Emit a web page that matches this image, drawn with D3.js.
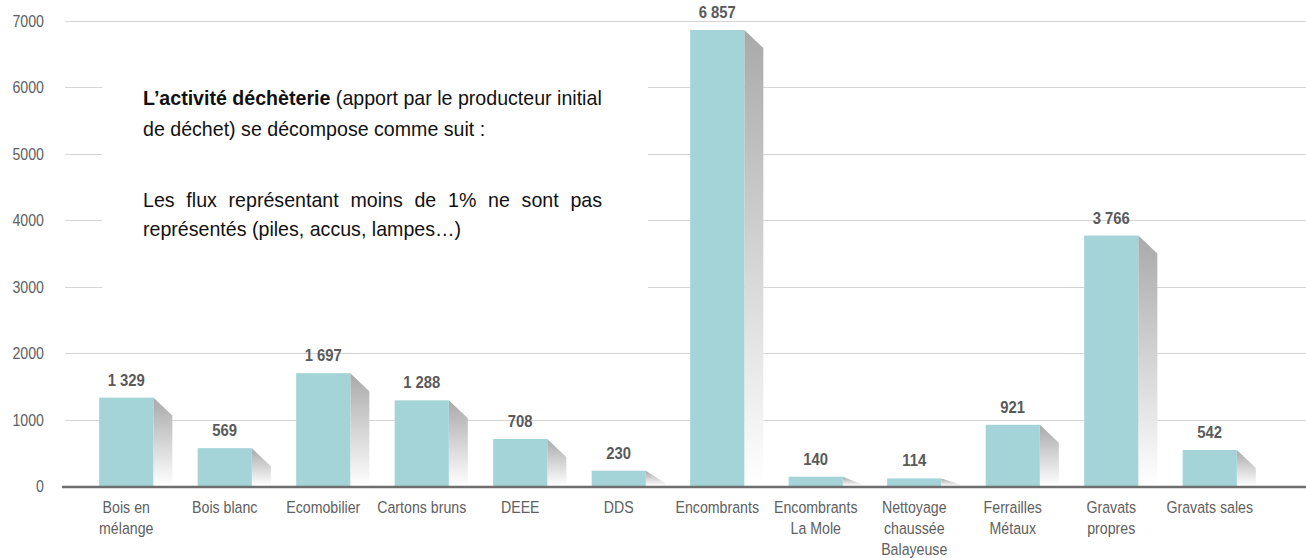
<!DOCTYPE html>
<meta charset="utf-8" />
<style>
  body { margin: 0; overflow: hidden; background: #fff; }
  svg { font-family: "Liberation Sans", Arial, sans-serif; }
</style>
<body>
<script src="https://cdn.jsdelivr.net/npm/d3@7"></script>
<script>
  // tonnages par flux (déchèterie)
  var categories = ["Bois en\nmélange", "Bois blanc", "Ecomobilier", "Cartons bruns", "DEEE", "DDS",
    "Encombrants", "Encombrants\nLa Mole", "Nettoyage\nchaussée\nBalayeuse", "Ferrailles\nMétaux",
    "Gravats\npropres", "Gravats sales"];
  var values = [1329, 569, 1697, 1288, 708, 230, 6857, 140, 114, 921, 3766, 542];
  var yTicks = [0, 1000, 2000, 3000, 4000, 5000, 6000, 7000];
  var noteLines = [
    [{ t: "L’activité déchèterie", b: true }, { t: " (apport par le producteur initial", b: false }],
    [{ t: "de déchet) se décompose comme suit :", b: false }],
    [{ t: "Les flux représentant moins de 1% ne sont pas", b: false }],
    [{ t: "représentés (piles, accus, lampes…)", b: false }]
  ];

  var width = 1306, height = 558;
  var narrow = 0.86; // pas de police condensée, on resserre à la main
  var fr = d3.formatLocale({ decimal: ",", thousands: " ", grouping: [3], currency: ["", " €"] });
  var fmt = fr.format(",d");

  var svg = d3.select("body").append("svg")
    .attr("width", width)
    .attr("height", height);

  var defs = svg.append("defs");
  var grad = defs.append("linearGradient")
    .attr("id", "shade")
    .attr("x1", 0).attr("y1", 0).attr("x2", 0).attr("y2", 1);
  grad.append("stop").attr("offset", "0%").attr("stop-color", "#a9a9a9");
  grad.append("stop").attr("offset", "100%").attr("stop-color", "#ffffff");

  var x = d3.scaleBand()
    .domain(categories)
    .range([77, 1259])
    .paddingInner(0.45)
    .paddingOuter(0.225);

  var y = d3.scaleLinear()
    .domain([0, 7000])
    .range([486, 20.5]);

  // grille
  svg.append("g").selectAll("line")
    .data(yTicks.filter(d => d > 0))
    .enter().append("line")
    .attr("x1", 65).attr("x2", width)
    .attr("y1", d => Math.round(y(d)) + 0.5)
    .attr("y2", d => Math.round(y(d)) + 0.5)
    .style("stroke", "#d4d4d4")
    .style("stroke-width", 1);

  svg.append("g").selectAll("text")
    .data(yTicks)
    .enter().append("text")
    .attr("transform", d => "translate(44," + (y(d) + 6) + ") scale(" + narrow + ",1)")
    .attr("text-anchor", "end")
    .style("font-size", "16.5px")
    .style("fill", "#606060")
    .text(d => d);

  // cadre blanc du commentaire
  svg.append("rect")
    .attr("x", 102).attr("y", 40)
    .attr("width", 546).attr("height", 262)
    .style("fill", "#fff");

  var noteY = [105, 136, 207, 236];
  var note = svg.append("g");
  var rows = noteLines.map(function (parts, i) {
    var t = note.append("text")
      .attr("x", 0)
      .attr("y", noteY[i])
      .style("font-size", "20px")
      .style("fill", "#111");
    parts.forEach(function (p) {
      t.append("tspan")
        .style("font-weight", p.b ? "bold" : "normal")
        .text(p.t);
    });
    return t;
  });
  // largeur de la 1re ligne : 459px
  var sx = 459 / rows[0].node().getComputedTextLength();
  note.attr("transform", "translate(143,0) scale(" + sx + ",1)");
  // 3e ligne justifiée
  var l3 = rows[2].node().getComputedTextLength();
  var gaps = noteLines[2][0].t.split(" ").length - 1;
  rows[2].style("word-spacing", ((459 / sx - l3) / gaps) + "px");

  var bars = svg.append("g").selectAll("g")
    .data(categories.map((c, i) => ({ c: c, v: values[i] })))
    .enter().append("g");

  // ombre portée à droite
  bars.append("path")
    .attr("d", function (d) {
      var x1 = x(d.c) + x.bandwidth(), top = y(d.v), base = y(0);
      var dy = Math.min(18, (base - top) * 0.8);
      return "M" + x1 + "," + top + "L" + (x1 + 19) + "," + (top + dy) +
        "L" + (x1 + 19) + "," + base + "L" + x1 + "," + base + "Z";
    })
    .style("fill", "url(#shade)");

  bars.append("rect")
    .attr("x", d => x(d.c))
    .attr("y", d => y(d.v))
    .attr("width", x.bandwidth())
    .attr("height", d => y(0) - y(d.v))
    .style("fill", "#a4d4d8");

  bars.append("text")
    .attr("transform", d => "translate(" + (x(d.c) + x.bandwidth() / 2) + "," + (y(d.v) - 12) + ") scale(0.9,1)")
    .attr("text-anchor", "middle")
    .style("font-size", "16.5px")
    .style("font-weight", "bold")
    .style("fill", "#5a5a5a")
    .text(d => fmt(d.v));

  // axe des x
  svg.append("line")
    .attr("x1", 62).attr("x2", width)
    .attr("y1", y(0) + 1).attr("y2", y(0) + 1)
    .style("stroke", "#6e6e6e")
    .style("stroke-width", 2.5);

  var labels = svg.append("g").selectAll("text")
    .data(categories)
    .enter().append("text")
    .attr("transform", d => "translate(" + (x(d) + x.bandwidth() / 2) + ",513) scale(" + narrow + ",1)")
    .attr("text-anchor", "middle")
    .style("font-size", "16.5px")
    .style("fill", "#606060");

  labels.selectAll("tspan")
    .data(d => d.split("\n"))
    .enter().append("tspan")
    .attr("x", 0)
    .attr("dy", (d, i) => i ? 21 : 0)
    .text(d => d);
</script>
</body>
